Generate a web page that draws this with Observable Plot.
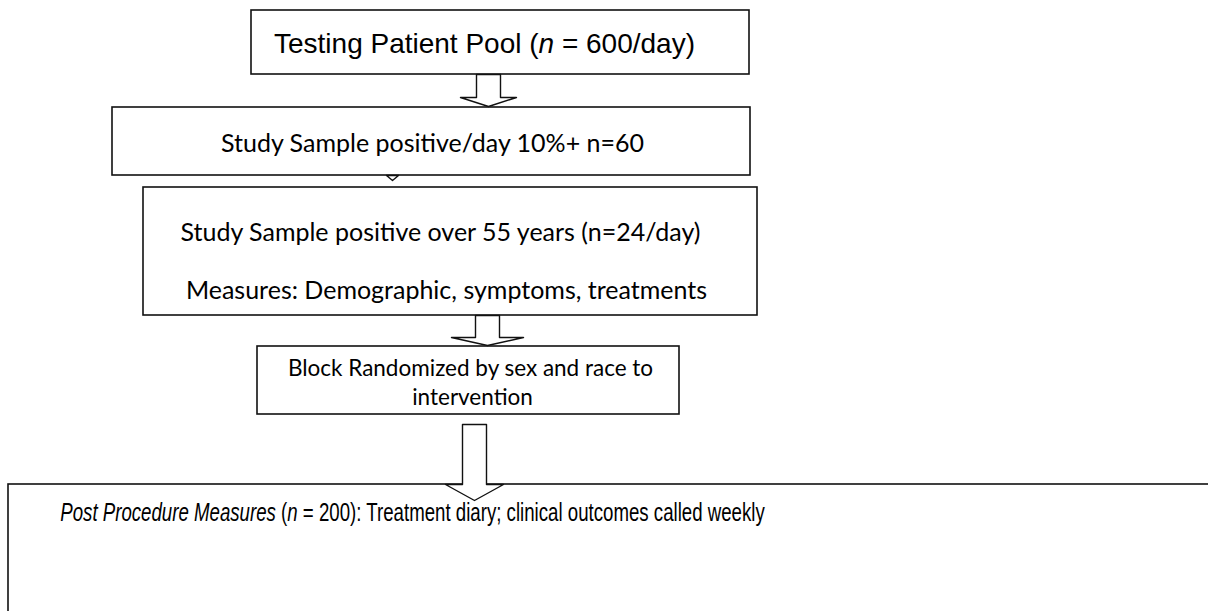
<!DOCTYPE html>
<html><head><meta charset="utf-8">
<script src="https://cdn.jsdelivr.net/npm/d3@7"></script>
<script src="https://cdn.jsdelivr.net/npm/@observablehq/plot@0.6"></script>
<style>body{margin:0;background:#fff} svg{display:block}</style>
</head><body><div id="chart"></div>
<script>
// ---- content (flowchart steps) ----
const stepIds = ["pool", "positive", "over55", "randomized", "post"];
const stepLines = [
  ["Testing Patient Pool (*n* = 600/day)"],
  ["Study Sample positive/day 10%+ n=60"],
  ["Study Sample positive over 55 years (n=24/day)", "Measures: Demographic, symptoms, treatments"],
  ["Block Randomized by sex and race to", "intervention"],
  ["*Post Procedure Measures* (*n* = 200): Treatment diary; clinical outcomes called weekly"]
];

// ---- layout (diagram geometry, in page units) ----
const layout = {
  pool:       {x1: 251, x2: 749,  y1: 10,  y2: 74,  tx: [484], ty: [44], font: "arial", size: 28},
  positive:   {x1: 112, x2: 750,  y1: 107, y2: 175, tx: [432], ty: [143], font: "calibri", size: 25},
  over55:     {x1: 143, x2: 757,  y1: 187, y2: 315, tx: [440, 446], ty: [232, 290], font: "calibri", size: 25},
  randomized: {x1: 257, x2: 679,  y1: 346, y2: 414, tx: [470, 472], ty: [368, 397], font: "calibri", size: 22.5},
  post:       {x1: 8,   x2: 1230, y1: 484, y2: 640, tx: [412], ty: [512], font: "narrow", size: 25, fit: 705}
};
const arrowSpecs = [
  {cx: 488, top: 74,  shaftBottom: 97,  shaftHalf: 12, headHalf: 28, tip: 106},
  {cx: 392, top: 175, shaftBottom: 175, shaftHalf: 0,  headHalf: 6,  tip: 180},
  {cx: 487, top: 315, shaftBottom: 337, shaftHalf: 12, headHalf: 36, tip: 345},
  {cx: 474, top: 424, shaftBottom: 484, shaftHalf: 12, headHalf: 29, tip: 500}
];
const fonts = {
  arial: "'Liberation Sans', Arial, sans-serif",
  calibri: "Lato, 'Open Sans', sans-serif",
  narrow: "'Liberation Sans', Arial, sans-serif"
};

const boxes = stepIds.map((id, i) => ({id, ...layout[id]}));
const texts = stepIds.flatMap((id, i) => stepLines[i].map((t, j) => ({
  id, text: t, x: layout[id].tx[j], y: layout[id].ty[j], font: layout[id].font,
  size: layout[id].size, fit: layout[id].fit || 0
})));
const arrowPts = arrowSpecs.flatMap((a, k) => {
  const p = [
    [a.cx - a.shaftHalf, a.top], [a.cx - a.shaftHalf, a.shaftBottom], [a.cx - a.headHalf, a.shaftBottom],
    [a.cx, a.tip], [a.cx + a.headHalf, a.shaftBottom], [a.cx + a.shaftHalf, a.shaftBottom],
    [a.cx + a.shaftHalf, a.top]
  ];
  return p.map(([x, y]) => ({k, x, y}));
});

const textMarks = texts.map(d => Plot.text([d], {
  x: "x", y: "y", text: "text", fontFamily: fonts[d.font], fontSize: d.size,
  fill: "black", textAnchor: "middle", lineAnchor: "middle",
  className: d.fit ? "rich fit-" + d.fit : "rich"
}));

const chart = Plot.plot({
  width: 1208, height: 611,
  margin: 0,
  x: {domain: [0, 1208], range: [0, 1208], axis: null},
  y: {domain: [0, 611], range: [0, 611], axis: null},
  style: {background: "white", overflow: "hidden"},
  marks: [
    Plot.rect(boxes, {x1: "x1", x2: "x2", y1: "y1", y2: "y2", fill: "white", stroke: "#111", strokeWidth: 1.6}),
    Plot.line(arrowPts, {x: "x", y: "y", z: "k", fill: "white", stroke: "#111", strokeWidth: 1.4, curve: "linear-closed"}),
    ...textMarks
  ]
});
document.getElementById("chart").appendChild(chart);

// rich text: *...* segments become italic; condensed line scaled horizontally to its width
d3.select(chart).selectAll("g.rich").each(function () {
  const g = this;
  const m = (g.getAttribute("class") || "").match(/fit-(\d+)/);
  d3.select(g).selectAll("text").each(function () {
    const raw = this.textContent;
    if (raw.includes("*")) {
      const parts = raw.split("*");
      const sel = d3.select(this);
      sel.text(null);
      parts.forEach((p, i) => {
        if (!p) return;
        sel.append("tspan").attr("font-style", i % 2 ? "italic" : null).text(p);
      });
    }
    if (m) {
      const natural = this.getComputedTextLength();
      const k = natural > 0 ? +m[1] / natural : 1;
      const t = this.getAttribute("transform") || "";
      this.setAttribute("transform", t + ` scale(${k},1)`);
    }
  });
});
</script></body></html>
